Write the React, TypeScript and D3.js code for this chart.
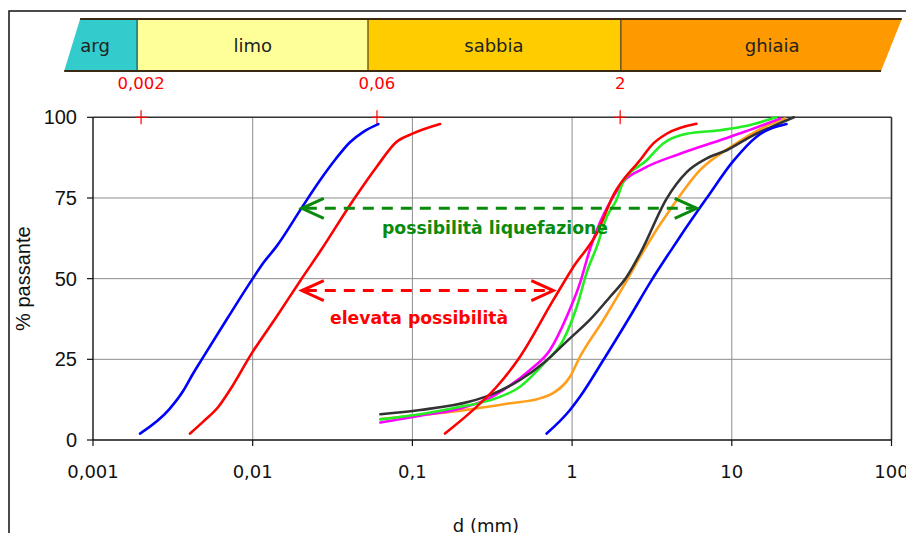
import React from "react";
import * as d3 from "d3";

// ---- data (d in mm, p in % passing) ----
const blueFine: [number, number][] = [[0.00197,2],[0.0030,9.5],[0.0037,15.5],[0.0042,20.3],[0.0048,25],[0.0069,37.5],[0.0100,50],[0.0117,55],[0.0141,60],[0.0203,72],[0.0264,80.5],[0.0330,87],[0.0405,92.2],[0.0493,95.5],[0.0612,97.9]];
const redFine: [number, number][] = [[0.00405,2],[0.0049,5.7],[0.0061,10.3],[0.0072,15.5],[0.0099,27],[0.0141,38.2],[0.0200,49.6],[0.0264,58.4],[0.0427,74.4],[0.0598,84.7],[0.0797,92.4],[0.101,95],[0.149,97.9]];
const redSand: [number, number][] = [[0.160,2],[0.246,9.8],[0.337,16.5],[0.472,25.8],[0.763,43.4],[1.02,53.7],[1.43,64.1],[1.81,75.8],[2.66,86.7],[3.23,91.9],[3.91,94.9],[6.0,98]];
const blueSand: [number, number][] = [[0.693,2],[0.97,9.3],[1.12,13.4],[1.57,24.8],[2.3,38.2],[3.1,49],[4.1,58.3],[4.74,63],[6.93,74.8],[10.2,86.4],[14.3,94],[22,97.9]];
const blackSand: [number, number][] = [[0.063,8],[0.112,9.3],[0.229,11.9],[0.306,13.9],[0.472,18.6],[0.66,23.8],[0.97,31.5],[1.29,37.2],[1.73,44.4],[2.2,50.6],[2.7,58.3],[3.91,74.8],[5.22,83],[6.93,87.2],[9.29,89.8],[13.6,94.4],[17.3,96.8],[24.5,100]];
const orangeSand: [number, number][] = [[0.063,6.5],[0.1,7.5],[0.229,9.5],[0.4,11.3],[0.63,12.9],[0.76,14.5],[0.97,19.6],[1.12,25.8],[1.57,37.2],[2.09,47.5],[2.79,58.5],[4.3,72.8],[6.32,83.6],[10.2,91.3],[14,95.5],[20,99.1],[21.5,99.6]];
const magentaSand: [number, number][] = [[0.063,5.4],[0.112,7.5],[0.2,9.8],[0.3,12.8],[0.371,15.5],[0.545,21.7],[0.727,27.9],[0.925,38.2],[1.12,48.6],[1.29,58.9],[1.43,65.1],[1.81,75.4],[2.09,80],[2.79,84.1],[4.74,88.7],[8.44,92.9],[12,95.5],[20,99.6]];
const greenSand: [number, number][] = [[0.063,6.4],[0.112,8],[0.2,10.3],[0.3,12.2],[0.472,16.5],[0.66,23.5],[0.881,31],[1.07,41.3],[1.25,52.7],[1.43,60],[1.65,69.2],[1.9,74.5],[2.09,80],[2.93,86.7],[3.72,91.9],[5.22,94.9],[8.44,96],[12,97.2],[19,100]];

const xTicks = [0.001, 0.01, 0.1, 1, 10, 100];
const xTickLabels = ["0,001", "0,01", "0,1", "1", "10", "100"];
const yTicks = [0, 25, 50, 75, 100];

const classLimits = [0.002, 0.06, 2];
const classLimitLabels = ["0,002", "0,06", "2"];

// band: outer edges and dividers, in mm
const bandOuter = { topLeft: 0.00083, bottomLeft: 0.00066, topRight: 116, bottomRight: 86 };
const bandDividers = [0.00189, 0.0527, 2.02];
const bandNames = ["arg", "limo", "sabbia", "ghiaia"];
const bandLabelAt = [0.00103, 0.01, 0.324, 17.9];
const bandColors = ["#33CCCC", "#FFFF99", "#FFCC00", "#FF9900"];

const greenArrow = { from: 0.0203, to: 6.03, p: 71.8 };
const redArrow = { from: 0.0203, to: 0.763, p: 46.3 };
const greenText = { text: "possibilità liquefazione", from: 0.0645, to: 1.68, p: 65.7 };
const redText = { text: "elevata possibilità", from: 0.0305, to: 0.398, p: 38.0 };

const series = [
  { data: orangeSand, color: "#FF9F1C" },
  { data: magentaSand, color: "#FF00FF" },
  { data: greenSand, color: "#22EE22" },
  { data: blackSand, color: "#333333" },
  { data: redSand, color: "#FF0000" },
  { data: blueSand, color: "#0000FF" },
  { data: blueFine, color: "#0000FF" },
  { data: redFine, color: "#FF0000" },
];

const comic = "'DejaVu Sans', 'Noto Sans', sans-serif";
const arial = "'Liberation Sans', Arial, sans-serif";

export default function App() {
  const x = d3.scaleLog().domain([0.001, 100]).range([93, 891.5]);
  const y = d3.scaleLinear().domain([0, 100]).range([440, 117.3]);
  const line = d3
    .line<[number, number]>()
    .x((d) => x(d[0]))
    .y((d) => y(d[1]))
    .curve(d3.curveMonotoneX);

  const bandTop = 19;
  const bandBot = 71;

  const arrow = (a: { from: number; to: number; p: number }, color: string) => {
    const x1 = x(a.from), x2 = x(a.to), yy = y(a.p);
    return (
      <g stroke={color} strokeWidth={3} fill="none">
        <line x1={x1 + 4} y1={yy} x2={x2 - 4} y2={yy} strokeDasharray="11 8" />
        <polyline points={`${x1 + 22},${yy - 10} ${x1},${yy} ${x1 + 22},${yy + 10}`} strokeLinejoin="miter" />
        <polyline points={`${x2 - 22},${yy - 10} ${x2},${yy} ${x2 - 22},${yy + 10}`} strokeLinejoin="miter" />
      </g>
    );
  };

  const bandEdgesTop = [bandOuter.topLeft, ...bandDividers, bandOuter.topRight];
  const bandEdgesBot = [bandOuter.bottomLeft, ...bandDividers, bandOuter.bottomRight];

  return (
    <svg width={906} height={533} style={{ position: "absolute", left: 0, top: 0, display: "block", background: "#fff" }}>
      {/* outer frame */}
      <rect x={9} y={11} width={1000} height={1000} fill="none" stroke="#111" strokeWidth={1.5} />

      {/* soil class band */}
      {bandNames.map((n, i) => {
        const xl0 = x(bandEdgesTop[i]), xr0 = x(bandEdgesTop[i + 1]);
        const xl1 = x(bandEdgesBot[i]), xr1 = x(bandEdgesBot[i + 1]);
        return (
          <polygon key={n} points={`${xl0},${bandTop} ${xr0},${bandTop} ${xr1},${bandBot} ${xl1},${bandBot}`} fill={bandColors[i]} />
        );
      })}
      {bandDividers.map((d) => (
        <line key={d} x1={x(d)} x2={x(d)} y1={bandTop} y2={bandBot} stroke="#222" strokeWidth={1} />
      ))}
      <line x1={x(bandOuter.topLeft)} x2={x(bandOuter.topRight)} y1={bandTop} y2={bandTop} stroke="#3a2a14" strokeWidth={2.2} />
      <line x1={x(bandOuter.bottomLeft)} x2={x(bandOuter.bottomRight)} y1={bandBot} y2={bandBot} stroke="#3a2a14" strokeWidth={2.2} />
      {bandNames.map((n, i) => (
        <text key={n} x={x(bandLabelAt[i])} y={45} textAnchor="middle" dominantBaseline="central" fontFamily={comic} fontSize={18} fill="#222">
          {n}
        </text>
      ))}

      {/* class limit labels */}
      {classLimits.map((d, i) => (
        <text key={d} x={x(d)} y={83} textAnchor="middle" dominantBaseline="central" fontFamily={comic} fontSize={16.5} fill="#FF0000">
          {classLimitLabels[i]}
        </text>
      ))}

      {/* grid */}
      {xTicks.slice(1, -1).map((t) => (
        <line key={t} x1={x(t)} x2={x(t)} y1={y(100)} y2={y(0)} stroke="#8c8c8c" strokeWidth={1} />
      ))}
      {yTicks.slice(1, -1).map((t) => (
        <line key={t} x1={x(0.001)} x2={x(100)} y1={y(t)} y2={y(t)} stroke="#8c8c8c" strokeWidth={1} />
      ))}
      {/* plot border */}
      <line x1={x(0.001)} x2={x(100)} y1={y(100)} y2={y(100)} stroke="#333" strokeWidth={1.6} />
      <line x1={x(100)} x2={x(100)} y1={y(100)} y2={y(0)} stroke="#333" strokeWidth={1.6} />

      {/* axes */}
      <line x1={x(0.001)} x2={x(0.001)} y1={y(100)} y2={y(0)} stroke="#111" strokeWidth={1.4} />
      <line x1={x(0.001)} x2={x(100)} y1={y(0)} y2={y(0)} stroke="#111" strokeWidth={1.4} />
      {yTicks.map((t) => (
        <g key={t}>
          <line x1={x(0.001) - 6} x2={x(0.001)} y1={y(t)} y2={y(t)} stroke="#111" strokeWidth={1.2} />
          <text x={77} y={y(t)} textAnchor="end" dominantBaseline="central" fontFamily={arial} fontSize={20} fill="#111">
            {t}
          </text>
        </g>
      ))}
      {xTicks.map((t, i) => (
        <g key={t}>
          <line x1={x(t)} x2={x(t)} y1={y(0)} y2={y(0) + 6} stroke="#111" strokeWidth={1.2} />
          <text x={x(t)} y={471} textAnchor="middle" dominantBaseline="central" fontFamily={comic} fontSize={18} fill="#111">
            {xTickLabels[i]}
          </text>
        </g>
      ))}
      <text x={486} y={525} textAnchor="middle" dominantBaseline="central" fontFamily={comic} fontSize={18} fill="#111">
        d (mm)
      </text>
      <text transform={`translate(23,${(y(0) + y(100)) / 2}) rotate(-90)`} textAnchor="middle" dominantBaseline="central" fontFamily={arial} fontSize={20} fill="#111">
        % passante
      </text>

      {/* class limit plus marks */}
      {classLimits.map((d) => (
        <g key={d} stroke="#FF0000" strokeWidth={1.2}>
          <line x1={x(d) - 6} x2={x(d) + 6} y1={y(100)} y2={y(100)} />
          <line x1={x(d)} x2={x(d)} y1={y(100) - 7} y2={y(100) + 7} />
        </g>
      ))}

      {/* curves */}
      {series.map((s, i) => (
        <path key={i} d={line(s.data) || ""} fill="none" stroke={s.color} strokeWidth={2.6} strokeLinejoin="round" strokeLinecap="round" />
      ))}

      {/* arrows & annotations */}
      {arrow(greenArrow, "#0A8A0A")}
      {arrow(redArrow, "#FF0000")}
      <text x={x(greenText.from)} y={y(greenText.p)} textLength={x(greenText.to) - x(greenText.from)} lengthAdjust="spacingAndGlyphs" dominantBaseline="central" fontFamily={comic} fontWeight="bold" fontSize={18} fill="#0A8A0A">
        {greenText.text}
      </text>
      <text x={x(redText.from)} y={y(redText.p)} textLength={x(redText.to) - x(redText.from)} lengthAdjust="spacingAndGlyphs" dominantBaseline="central" fontFamily={comic} fontWeight="bold" fontSize={18} fill="#FF0000">
        {redText.text}
      </text>
    </svg>
  );
}
